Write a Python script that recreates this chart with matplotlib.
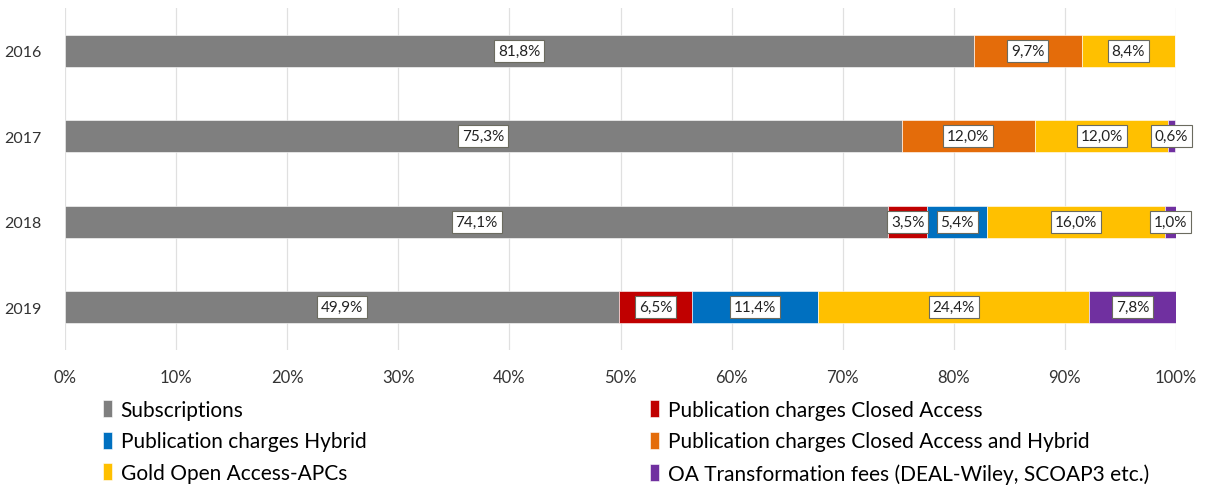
import numpy as np
import matplotlib
matplotlib.use("Agg")
import matplotlib.pyplot as plt

years = ["2016", "2017", "2018", "2019"]
categories = [
    "Subscriptions",
    "Publication charges Closed Access",
    "Publication charges Hybrid",
    "Publication charges Closed Access and Hybrid",
    "Gold Open Access-APCs",
    "OA Transformation fees (DEAL-Wiley, SCOAP3 etc.)",
]
subscriptions = [81.8, 75.3, 74.1, 49.9]
closed_access = [0.0, 0.0, 3.5, 6.5]
hybrid = [0.0, 0.0, 5.4, 11.4]
closed_and_hybrid = [9.7, 12.0, 0.0, 0.0]
gold_apcs = [8.4, 12.0, 16.0, 24.4]
oa_fees = [0.0, 0.6, 1.0, 7.8]
colors = ["#7f7f7f", "#c00000", "#0070c0", "#e46c0a", "#ffc000", "#7030a0"]

series = [subscriptions, closed_access, hybrid, closed_and_hybrid, gold_apcs, oa_fees]

plt.rcParams["font.family"] = ["Lato", "DejaVu Sans"]
fig = plt.figure(figsize=(12.05, 4.89), dpi=100)
ax = fig.add_axes([65 / 1205, 1 - 351 / 489, 1111 / 1205, 342 / 489])

y = np.arange(len(years))
left = np.zeros(len(years))
handles = []
for name, vals, col in zip(categories, series, colors):
    vals = np.array(vals)
    bars = ax.barh(y, vals, left=left, height=0.38, color=col, label=name,
                   edgecolor="white", linewidth=0.4, zorder=2)
    handles.append(bars)
    for yi, (l, v) in enumerate(zip(left, vals)):
        if v > 0:
            ax.text(l + v / 2, yi, f"{v:.1f}%".replace(".", ","),
                    ha="center", va="center", fontsize=11, color="#222222",
                    zorder=4,
                    bbox=dict(boxstyle="square,pad=0.25", facecolor="white",
                              edgecolor="#6b6b5f", linewidth=0.8))
    left = left + vals

ax.set_xlim(0, 100)
ax.set_ylim(len(years) - 0.5, -0.5)
ax.set_yticks(y)
ax.set_yticklabels(years)
ax.set_xticks(np.arange(0, 101, 10))
ax.set_xticklabels([f"{t}%" for t in range(0, 101, 10)])
ax.tick_params(length=0, colors="#333333")
ax.tick_params(axis="x", labelsize=12, pad=14)
ax.tick_params(axis="y", labelsize=11.5, pad=17)
ax.grid(axis="x", color="#e0e0e0", linewidth=0.9, zorder=0)
for s in ax.spines.values():
    s.set_visible(False)

# two legend columns placed separately, read row by row like the original
leg_kw = dict(loc="upper left", frameon=False, fontsize=15, handlelength=0.45,
              handleheight=0.85, handletextpad=0.4, labelspacing=0.55,
              borderaxespad=0, borderpad=0)
left_col = [0, 2, 4]
right_col = [1, 3, 5]
fig.legend([handles[i] for i in left_col], [categories[i] for i in left_col],
           bbox_to_anchor=(103 / 1205, 1 - 401 / 489), **leg_kw)
fig.legend([handles[i] for i in right_col], [categories[i] for i in right_col],
           bbox_to_anchor=(650 / 1205, 1 - 401 / 489), **leg_kw)

fig.savefig("out.png", dpi=100)
